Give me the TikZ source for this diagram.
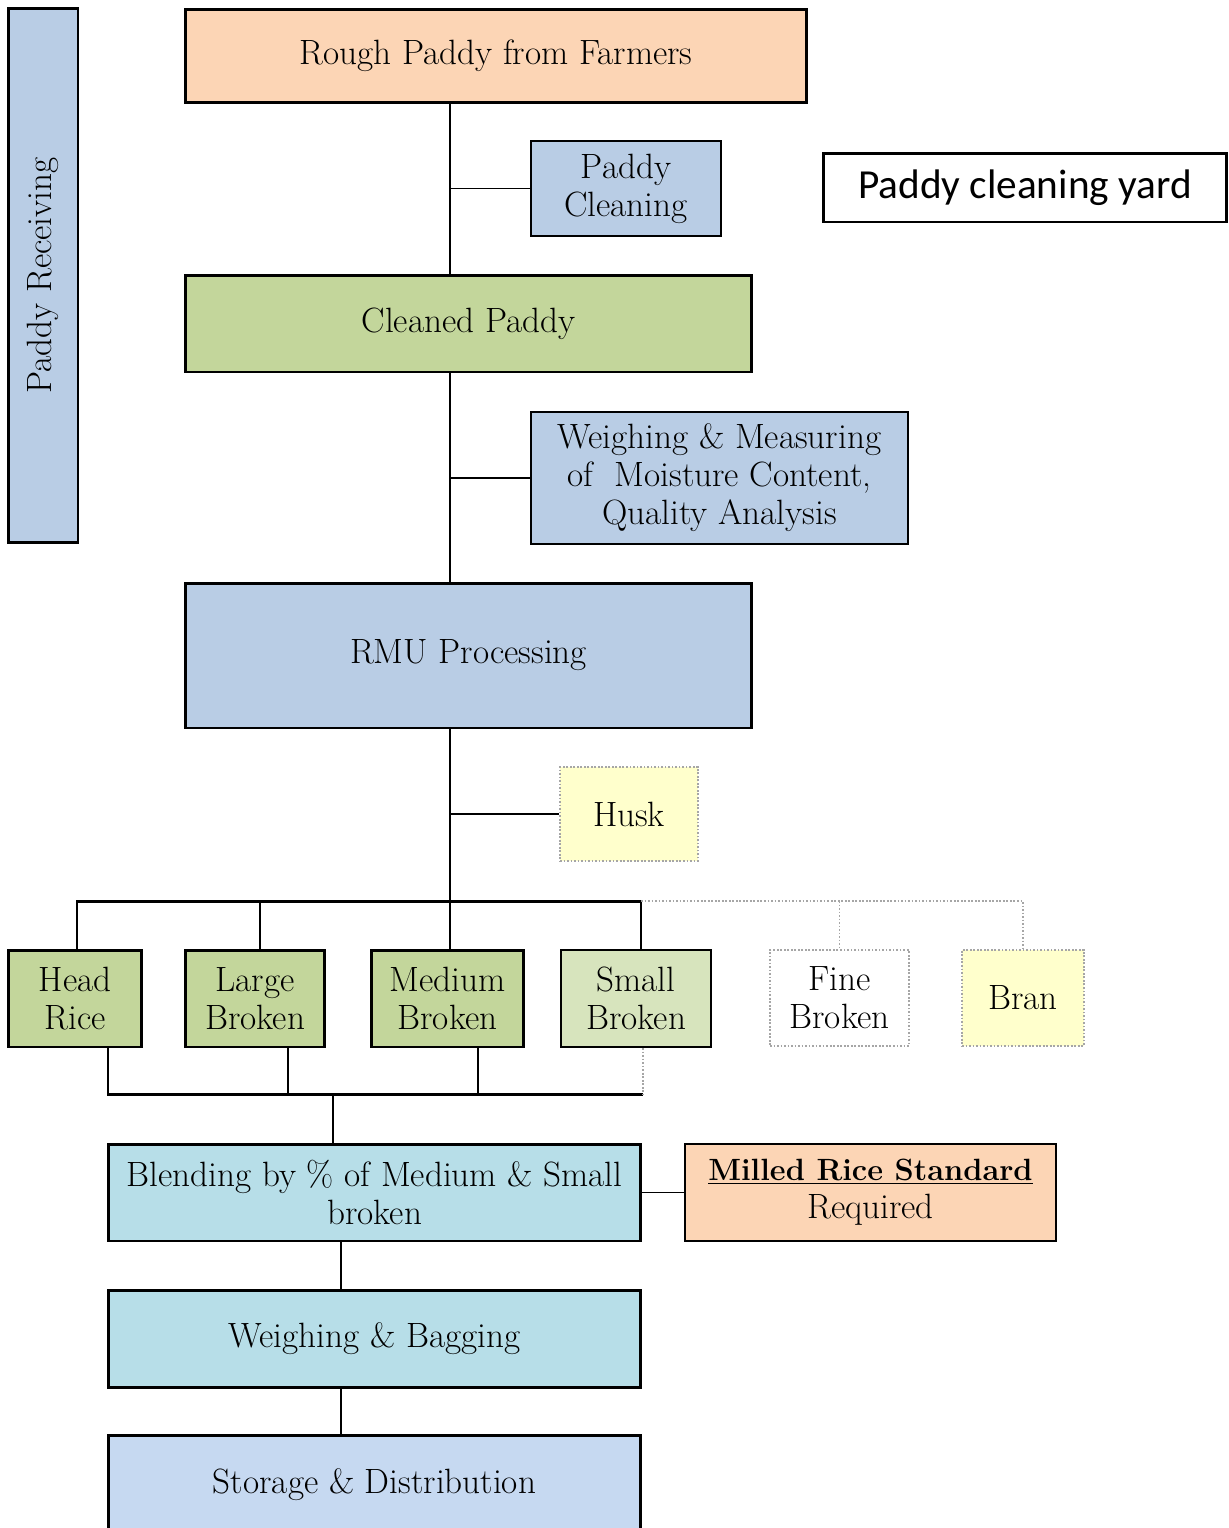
\documentclass[tikz,border=0pt]{standalone}
\usepackage{xcolor}
\usepackage{fontspec}
\newfontfamily\yardfont{Carlito}
\definecolor{peach}{HTML}{FCD5B5}
\definecolor{paddyblue}{HTML}{B9CDE5}
\definecolor{paddygreen}{HTML}{C3D69B}
\definecolor{lightgreen}{HTML}{D7E4BD}
\definecolor{paleyellow}{HTML}{FFFFCC}
\definecolor{palecyan}{HTML}{B7DEE8}
\definecolor{storeblue}{HTML}{C6D9F1}

\begin{document}
\begin{tikzpicture}[x=0.02cm,y=-0.02cm,
    mainbox/.style={shape=rectangle,draw=black,line width=1.7pt,align=center,font=\fontsize{20}{21.6}\selectfont,inner sep=0pt},
    sidebox/.style={shape=rectangle,draw=black,line width=0.9pt,align=center,font=\fontsize{20}{21.6}\selectfont,inner sep=0pt},
    dotbox/.style={shape=rectangle,draw=gray!70,densely dotted,line width=1pt,align=center,font=\fontsize{20}{21.6}\selectfont,inner sep=0pt},
    thinline/.style={line width=1.1pt},
    thickline/.style={line width=1.7pt},
    dotline/.style={draw=gray!70,densely dotted,line width=1pt}]
                    \useasboundingbox (0,0) rectangle (1229,1528);
                    \clip (0,0) rectangle (1229,1528);

                    \node[mainbox,fill=paddyblue,minimum width=10.7cm,minimum height=1.4cm,rotate=90] (recv) at (43,275.5) {Paddy Receiving};
                    \node[mainbox,fill=peach,minimum width=12.44cm,minimum height=1.88cm] (rough) at (496,56) {Rough Paddy from Farmers};
                    \node[sidebox,fill=paddyblue,minimum width=3.8cm,minimum height=1.9cm] (clean) at (626,188.5) {Paddy\\Cleaning};
                    \node[mainbox,fill=white,minimum width=8.08cm,minimum height=1.38cm,font=\yardfont\fontsize{23.5}{26}\selectfont] (yard) at (1025,187.5) {Paddy cleaning yard};
                    \node[mainbox,fill=paddygreen,minimum width=11.34cm,minimum height=1.94cm] (cleaned) at (468.5,323.5) {Cleaned Paddy};
                    \node[sidebox,fill=paddyblue,minimum width=7.54cm,minimum height=2.64cm] (weigh) at (719.5,478) {Weighing \& Measuring\\of\ \ Moisture Content,\\Quality Analysis};
                    \node[mainbox,fill=paddyblue,minimum width=11.34cm,minimum height=2.9cm] (rmu) at (468.5,655.5) {RMU Processing};
                    \node[dotbox,fill=paleyellow,minimum width=2.76cm,minimum height=1.88cm] (husk) at (629,814) {Husk};

                    \node[mainbox,fill=paddygreen,minimum width=2.68cm,minimum height=1.94cm] (head) at (75,998.5) {Head\\Rice};
                    \node[mainbox,fill=paddygreen,minimum width=2.8cm,minimum height=1.94cm] (large) at (255,998.5) {Large\\Broken};
                    \node[mainbox,fill=paddygreen,minimum width=3.06cm,minimum height=1.94cm] (medium) at (447.5,998.5) {Medium\\Broken};
                    \node[sidebox,line width=1.3pt,fill=lightgreen,minimum width=3cm,minimum height=1.94cm] (small) at (636,998.5) {Small\\Broken};
                    \node[dotbox,fill=white,minimum width=2.78cm,minimum height=1.92cm] (fine) at (839.5,998) {Fine\\Broken};
                    \node[dotbox,fill=paleyellow,minimum width=2.44cm,minimum height=1.92cm] (bran) at (1023,998) {Bran};

                    \node[mainbox,fill=palecyan,minimum width=10.66cm,minimum height=1.94cm] (blend) at (374.5,1192.5) {Blending by \% of Medium \& Small\\broken};
                    \node[sidebox,fill=peach,minimum width=7.42cm,minimum height=1.94cm] (milled) at (870.5,1192.5) {{\fontsize{17.5}{21.6}\selectfont\textbf{\underline{Milled Rice Standard}}}\\Required};
                    \node[mainbox,fill=palecyan,minimum width=10.66cm,minimum height=1.94cm] (bag) at (374.5,1338.5) {Weighing \& Bagging};
                    \node[mainbox,fill=storeblue,minimum width=10.66cm,minimum height=2cm] (store) at (374.5,1485) {Storage \& Distribution};

                    \coordinate (trunk) at (450,0);
                    \coordinate (split) at (450,901);
                    \coordinate (s4) at (641,901);
                    \coordinate (b1) at (108,1094);
                    \coordinate (b2) at (288,1094);
                    \coordinate (b3) at (478,1094);
                    \coordinate (b4) at (643,1094);
                    \coordinate (bm) at (333,1094);
                    \coordinate (blendtop) at (341,0);

                    \draw[thinline] (rough.south -| trunk) -- (cleaned.north -| trunk);
                    \draw[thinline] (clean.west) -- (clean.west -| trunk);
                    \draw[thinline] (cleaned.south -| trunk) -- (rmu.north -| trunk);
                    \draw[thinline] (weigh.west) -- (weigh.west -| trunk);
                    \draw[thickline] (rmu.south -| trunk) -- (split);
                    \draw[thinline] (husk.west) -- (husk.west -| trunk);

                    \draw[thickline] (head.north -| 77,0) |- (split);
                    \draw[thickline] (large.north -| 260,0) -- (split -| 260,0);
                    \draw[thickline] (split) -- (medium.north -| split);
                    \draw[thickline] (split) -- (s4);
                    \draw[thinline] (s4) -- (small.north -| s4);
                    \draw[dotline] (s4) -- (split -| bran.north) -- (bran.north);
                    \draw[dotline] (split -| fine.north) -- (fine.north);

                    \draw[thickline] (head.south -| b1) -- (b1) -- (b4);
                    \draw[thickline] (large.south -| b2) -- (b2);
                    \draw[thickline] (medium.south -| b3) -- (b3);
                    \draw[dotline] (small.south -| b4) -- (b4);
                    \draw[thinline] (bm) -- (blend.north -| bm);
                    \draw[thinline] (blend.east) -- (milled.west);
                    \draw[thinline] (blend.south -| blendtop) -- (bag.north -| blendtop);
                    \draw[thinline] (bag.south -| blendtop) -- (store.north -| blendtop);
                \end{tikzpicture}
\end{document}
